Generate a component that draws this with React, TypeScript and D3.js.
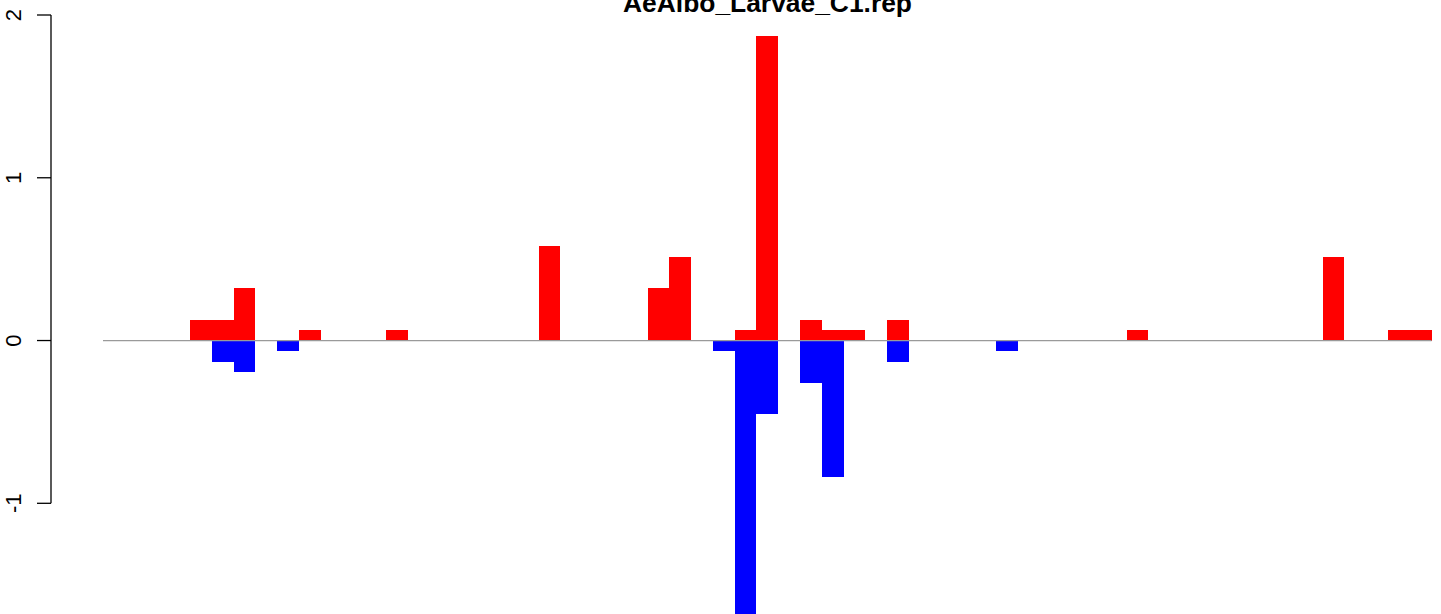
import React, { useEffect, useRef } from "react";
import * as d3 from "d3";

const TITLE = "AeAlbo_Larvae_C1.rep";

// bin index of each bar (61 bins)
const BINS: number[] = [
  0, 1, 2, 3, 4, 5, 6, 7, 8, 9, 10, 11, 12, 13, 14, 15, 16, 17, 18, 19,
  20, 21, 22, 23, 24, 25, 26, 27, 28, 29, 30, 31, 32, 33, 34, 35, 36, 37, 38, 39,
  40, 41, 42, 43, 44, 45, 46, 47, 48, 49, 50, 51, 52, 53, 54, 55, 56, 57, 58, 59, 60,
];

// positive (red) series
const RED: number[] = [
  0, 0, 0, 0, 0.129, 0.129, 0.323, 0, 0, 0.065, 0, 0, 0, 0.065, 0, 0, 0, 0, 0, 0,
  0.581, 0, 0, 0, 0, 0.323, 0.516, 0, 0, 0.065, 1.871, 0, 0.129, 0.065, 0.065, 0, 0.129, 0, 0, 0,
  0, 0, 0, 0, 0, 0, 0, 0.065, 0, 0, 0, 0, 0, 0, 0, 0, 0.516, 0, 0, 0.065, 0.065,
];

// negative (blue) series
const BLUE: number[] = [
  0, 0, 0, 0, 0, -0.129, -0.194, 0, -0.065, 0, 0, 0, 0, 0, 0, 0, 0, 0, 0, 0,
  0, 0, 0, 0, 0, 0, 0, 0, -0.065, -1.81, -0.452, 0, -0.258, -0.839, 0, 0, -0.129, 0, 0, 0,
  0, -0.065, 0, 0, 0, 0, 0, 0, 0, 0, 0, 0, 0, 0, 0, 0, 0, 0, 0, 0, 0,
];

const Y_TICKS: number[] = [-1, 0, 1, 2];

const W = 1441;
const H = 614;

export default function App() {
  const ref = useRef<SVGSVGElement | null>(null);

  useEffect(() => {
    const svg = d3.select(ref.current);
    svg.selectAll("*").remove();

    const x = d3.scaleLinear().domain([0, BINS.length]).range([103, 1431.6]);
    const y = d3.scaleLinear().domain([-1, 2]).range([503.3, 15]);

    const g = svg.append("g");

    g.selectAll("rect.red")
      .data(BINS.filter((i) => RED[i] !== 0))
      .enter()
      .append("rect")
      .attr("x", (i) => x(i))
      .attr("width", (i) => x(i + 1) - x(i))
      .attr("y", (i) => y(RED[i]))
      .attr("height", (i) => y(0) - y(RED[i]))
      .attr("fill", "#FF0000")
      .attr("shape-rendering", "crispEdges");

    g.selectAll("rect.blue")
      .data(BINS.filter((i) => BLUE[i] !== 0))
      .enter()
      .append("rect")
      .attr("x", (i) => x(i))
      .attr("width", (i) => x(i + 1) - x(i))
      .attr("y", y(0))
      .attr("height", (i) => y(BLUE[i]) - y(0))
      .attr("fill", "#0000FF")
      .attr("shape-rendering", "crispEdges");

    // baseline
    g.append("line")
      .attr("x1", x(0))
      .attr("x2", x(BINS.length))
      .attr("y1", y(0))
      .attr("y2", y(0))
      .attr("stroke", "#9a9a9a")
      .attr("stroke-width", 1.3);

    // y axis
    const axisX = 51;
    g.append("line")
      .attr("x1", axisX)
      .attr("x2", axisX)
      .attr("y1", y(2))
      .attr("y2", y(-1))
      .attr("stroke", "#000")
      .attr("stroke-width", 1.3);

    const ticks = g.selectAll("g.tick").data(Y_TICKS).enter().append("g");
    ticks
      .append("line")
      .attr("x1", axisX - 14)
      .attr("x2", axisX)
      .attr("y1", (d) => y(d))
      .attr("y2", (d) => y(d))
      .attr("stroke", "#000")
      .attr("stroke-width", 1.3);
    ticks
      .append("text")
      .attr("transform", (d) => `translate(21,${y(d)}) rotate(-90)`)
      .attr("text-anchor", "middle")
      .attr("font-family", "Liberation Sans, Arial, sans-serif")
      .attr("font-size", 22)
      .attr("fill", "#000")
      .text((d) => String(d));

    // title
    svg
      .append("text")
      .attr("x", 767.5)
      .attr("y", 11.5)
      .attr("text-anchor", "middle")
      .attr("font-family", "Liberation Sans, Arial, sans-serif")
      .attr("font-weight", "bold")
      .attr("font-size", 26.4)
      .attr("fill", "#000")
      .text(TITLE);
  }, []);

  return (
    <svg
      ref={ref}
      width={W}
      height={H}
      style={{ position: "absolute", left: 0, top: 0, background: "#fff" }}
    />
  );
}
